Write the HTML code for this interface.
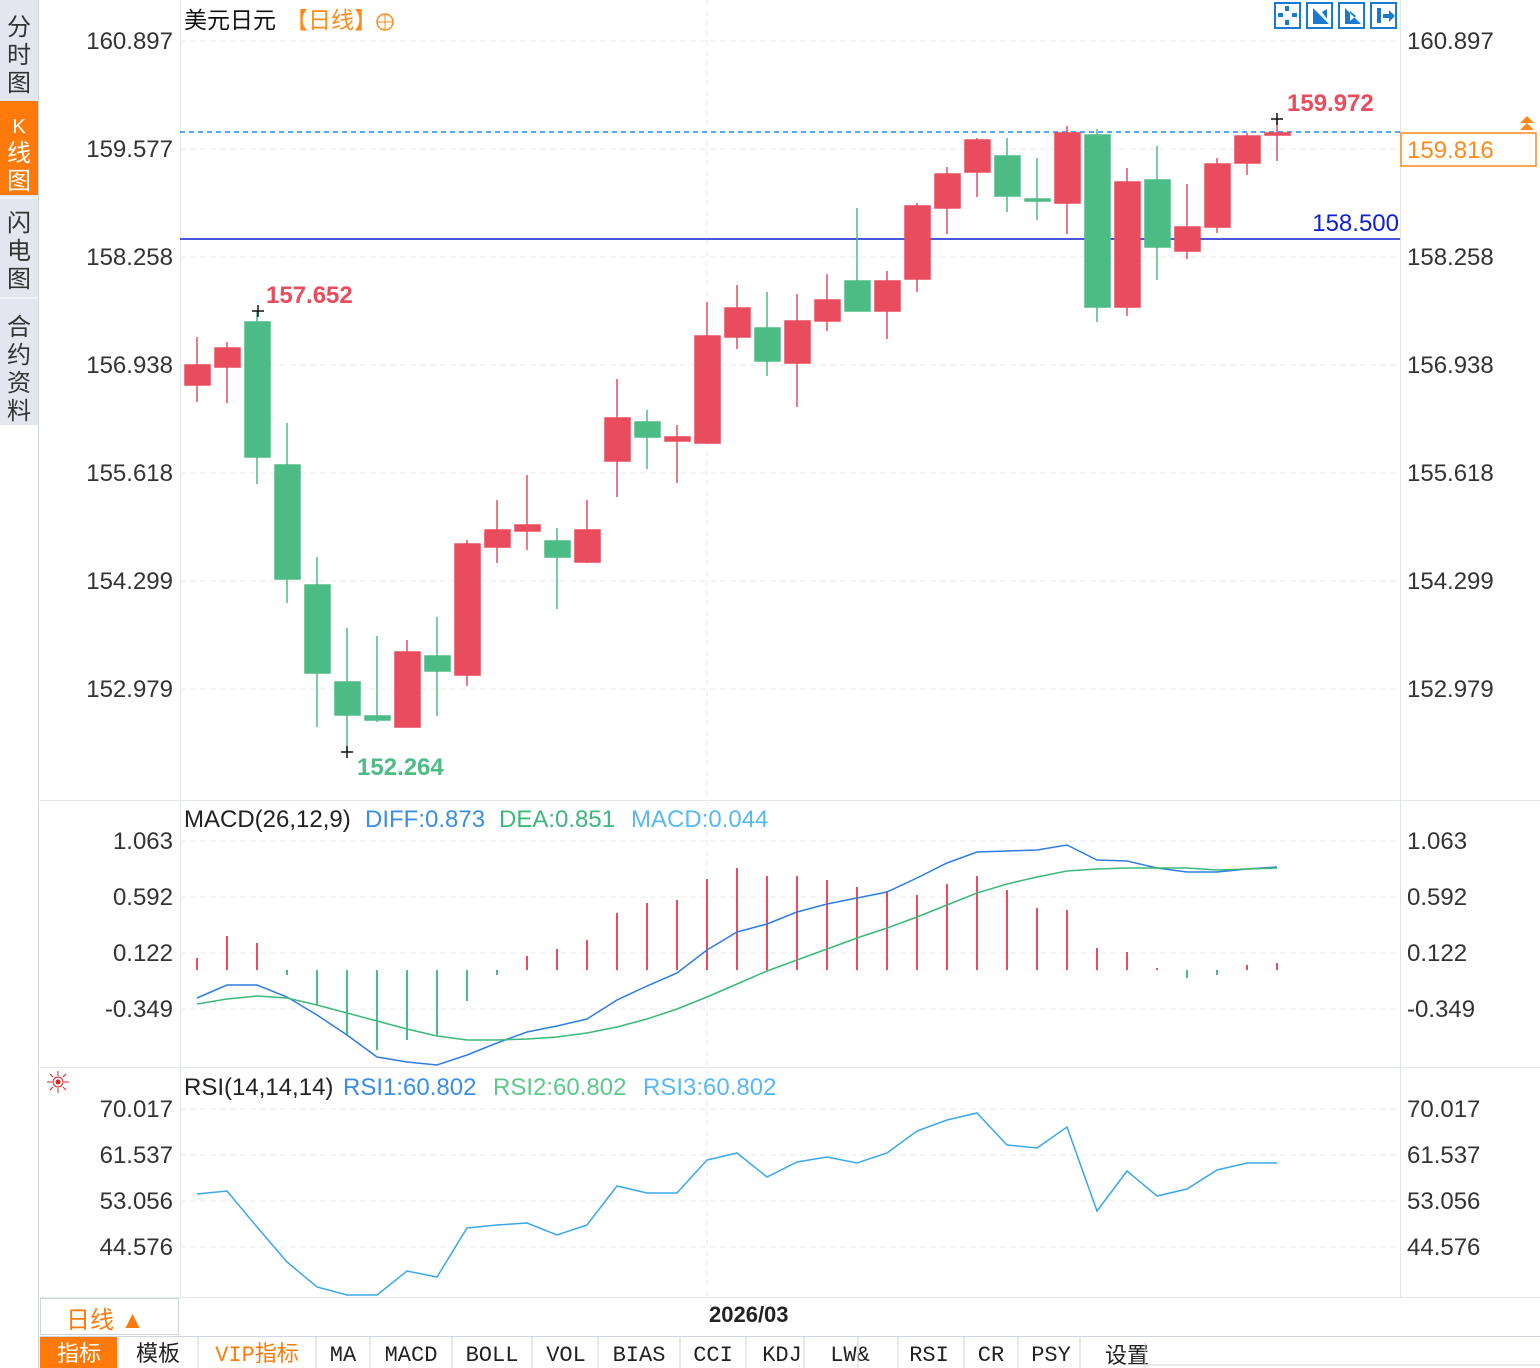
<!DOCTYPE html>
<html><head><meta charset="utf-8"><style>
body{margin:0;width:1540px;height:1368px;background:#fff;overflow:hidden;font-family:"Liberation Sans","Noto Sans CJK SC",sans-serif;position:relative}
svg{position:absolute;left:0;top:0}
</style></head><body>
<svg width="1540" height="1368" xmlns="http://www.w3.org/2000/svg" font-family="Liberation Sans, Noto Sans CJK SC, sans-serif">
<rect x="0" y="0" width="38" height="1368" fill="#fff"/>
<rect x="0" y="0" width="38" height="425" fill="#e3e6ee"/>
<rect x="0" y="101" width="38" height="94" fill="#ff7a0a"/>
<line x1="38.5" y1="0" x2="38.5" y2="1368" stroke="#d0d6de"/>
<line x1="0" y1="198" x2="38" y2="198" stroke="#fff"/>
<line x1="0" y1="298" x2="38" y2="298" stroke="#fff"/>
<g font-size="24" fill="#333" text-anchor="middle">
<text x="19" y="35">分</text><text x="19" y="63">时</text><text x="19" y="91">图</text>
<text x="19" y="133" fill="#fff" font-size="20">K</text><text x="19" y="161" fill="#fff">线</text><text x="19" y="189" fill="#fff">图</text>
<text x="19" y="231">闪</text><text x="19" y="259">电</text><text x="19" y="287">图</text>
<text x="19" y="335">合</text><text x="19" y="363">约</text><text x="19" y="391">资</text><text x="19" y="419">料</text>
</g>
<line x1="180.5" y1="0" x2="180.5" y2="1298" stroke="#dfe4ea"/>
<line x1="1400.5" y1="0" x2="1400.5" y2="1298" stroke="#dfe4ea"/>
<line x1="40" y1="800.5" x2="1540" y2="800.5" stroke="#e3e7ec"/>
<line x1="40" y1="1067.5" x2="1540" y2="1067.5" stroke="#e3e7ec"/>
<line x1="40" y1="1297.5" x2="1540" y2="1297.5" stroke="#e3e7ec"/>
<g stroke="#e8ebef" stroke-dasharray="6,4">
<line x1="180" y1="41" x2="1400" y2="41"/><line x1="180" y1="149" x2="1400" y2="149"/><line x1="180" y1="257" x2="1400" y2="257"/><line x1="180" y1="365" x2="1400" y2="365"/><line x1="180" y1="473" x2="1400" y2="473"/><line x1="180" y1="581" x2="1400" y2="581"/><line x1="180" y1="689" x2="1400" y2="689"/>
<line x1="180" y1="841" x2="1400" y2="841"/><line x1="180" y1="897" x2="1400" y2="897"/><line x1="180" y1="953" x2="1400" y2="953"/><line x1="180" y1="1009" x2="1400" y2="1009"/>
<line x1="180" y1="1109" x2="1400" y2="1109"/><line x1="180" y1="1155" x2="1400" y2="1155"/><line x1="180" y1="1201" x2="1400" y2="1201"/><line x1="180" y1="1247" x2="1400" y2="1247"/>
<line x1="707" y1="0" x2="707" y2="1298"/>
</g>
<g font-size="24" fill="#333" text-anchor="end">
<text x="173" y="49">160.897</text><text x="173" y="157">159.577</text><text x="173" y="265">158.258</text><text x="173" y="373">156.938</text><text x="173" y="481">155.618</text><text x="173" y="589">154.299</text><text x="173" y="697">152.979</text>
<text x="173" y="849">1.063</text><text x="173" y="905">0.592</text><text x="173" y="961">0.122</text><text x="173" y="1017">-0.349</text>
<text x="173" y="1117">70.017</text><text x="173" y="1163">61.537</text><text x="173" y="1209">53.056</text><text x="173" y="1255">44.576</text>
</g>
<g font-size="24" fill="#333">
<text x="1407" y="49">160.897</text><text x="1407" y="265">158.258</text><text x="1407" y="373">156.938</text><text x="1407" y="481">155.618</text><text x="1407" y="589">154.299</text><text x="1407" y="697">152.979</text>
<text x="1407" y="849">1.063</text><text x="1407" y="905">0.592</text><text x="1407" y="961">0.122</text><text x="1407" y="1017">-0.349</text>
<text x="1407" y="1117">70.017</text><text x="1407" y="1163">61.537</text><text x="1407" y="1209">53.056</text><text x="1407" y="1255">44.576</text>
</g>
<text x="184" y="28" font-size="23" fill="#111">美元日元</text>
<text x="285" y="28" font-size="23" fill="#ff8a1a">【日线】</text>
<circle cx="385" cy="22" r="8" fill="none" stroke="#ff8a1a" stroke-width="1.5"/><line x1="377" y1="22" x2="393" y2="22" stroke="#ff8a1a"/><line x1="385" y1="14" x2="385" y2="30" stroke="#ff8a1a"/>
<g fill="none" stroke="#1a7ad0" stroke-width="2">
<rect x="1275" y="3" width="25" height="25"/><rect x="1307" y="3" width="25" height="25"/><rect x="1339" y="3" width="25" height="25"/><rect x="1371" y="3" width="25" height="25"/>
</g>
<g fill="#1a7ad0"><rect x="1285" y="6" width="4" height="5"/><rect x="1285" y="20" width="4" height="5"/><rect x="1278" y="13" width="5" height="4"/><rect x="1292" y="13" width="5" height="4"/>
<path d="M1345 8v16h16M1350 11l6 5-6 5z"/><path d="M1377 8h4v15h-4zM1383 14h6v-4l6 6-6 6v-4h-6z"/><path d="M1313 8v16h16M1318 9v10M1322 12l5-3v10z"/></g>
<line x1="180" y1="132" x2="1400" y2="132" stroke="#1a8cff" stroke-width="1.5" stroke-dasharray="5,4"/>
<line x1="180" y1="239" x2="1400" y2="239" stroke="#1020d0" stroke-width="1.5"/>
<text x="1399" y="231" font-size="24" fill="#1020d0" text-anchor="end">158.500</text>
<rect x="1401" y="133" width="135" height="33" fill="#fff" stroke="#ff8a1a" stroke-width="1.5"/>
<text x="1407" y="158" font-size="24" fill="#ff8a1a">159.816</text>
<path d="M1520 123l7-7 7 7zM1520 130l7-7 7 7z" fill="#ff8a1a"/>
<g stroke-width="1.5">
<g stroke="#e94c5d" fill="#e94c5d">
<line x1="197" y1="337" x2="197" y2="402"/><rect x="185" y="365" width="25" height="20"/>
<line x1="227" y1="342" x2="227" y2="403"/><rect x="215" y="348" width="25" height="19"/>
<line x1="407" y1="640" x2="407" y2="727"/><rect x="395" y="652" width="25" height="75"/>
<line x1="467" y1="540" x2="467" y2="686"/><rect x="455" y="544" width="25" height="131"/>
<line x1="497" y1="500" x2="497" y2="563"/><rect x="485" y="530" width="25" height="17"/>
<line x1="527" y1="475" x2="527" y2="550"/><rect x="515" y="525" width="25" height="6"/>
<line x1="587" y1="500" x2="587" y2="563"/><rect x="575" y="530" width="25" height="32"/>
<line x1="617" y1="379" x2="617" y2="497"/><rect x="605" y="418" width="25" height="43"/>
<line x1="677" y1="425" x2="677" y2="483"/><rect x="665" y="437" width="25" height="4"/>
<line x1="707" y1="302" x2="707" y2="443"/><rect x="695" y="336" width="25" height="107"/>
<line x1="737" y1="285" x2="737" y2="349"/><rect x="725" y="308" width="25" height="29"/>
<line x1="797" y1="294" x2="797" y2="407"/><rect x="785" y="321" width="25" height="42"/>
<line x1="827" y1="274" x2="827" y2="331"/><rect x="815" y="300" width="25" height="21"/>
<line x1="887" y1="271" x2="887" y2="339"/><rect x="875" y="281" width="25" height="30"/>
<line x1="917" y1="203" x2="917" y2="292"/><rect x="905" y="206" width="25" height="73"/>
<line x1="947" y1="167" x2="947" y2="234"/><rect x="935" y="174" width="25" height="34"/>
<line x1="977" y1="138" x2="977" y2="197"/><rect x="965" y="140" width="25" height="32"/>
<line x1="1067" y1="126" x2="1067" y2="234"/><rect x="1055" y="133" width="25" height="70"/>
<line x1="1127" y1="168" x2="1127" y2="316"/><rect x="1115" y="182" width="25" height="125"/>
<line x1="1187" y1="184" x2="1187" y2="259"/><rect x="1175" y="227" width="25" height="24"/>
<line x1="1217" y1="158" x2="1217" y2="233"/><rect x="1205" y="164" width="25" height="63"/>
<line x1="1247" y1="133" x2="1247" y2="175"/><rect x="1235" y="136" width="25" height="27"/>
<line x1="1277" y1="119" x2="1277" y2="161"/><rect x="1265" y="133" width="25" height="2"/>
</g>
<g stroke="#4dbb86" fill="#4dbb86">
<line x1="257" y1="311" x2="257" y2="484"/><rect x="245" y="322" width="25" height="135"/>
<line x1="287" y1="423" x2="287" y2="603"/><rect x="275" y="465" width="25" height="114"/>
<line x1="317" y1="557" x2="317" y2="727"/><rect x="305" y="585" width="25" height="88"/>
<line x1="347" y1="628" x2="347" y2="752"/><rect x="335" y="682" width="25" height="33"/>
<line x1="377" y1="636" x2="377" y2="722"/><rect x="365" y="716" width="25" height="4"/>
<line x1="437" y1="617" x2="437" y2="716"/><rect x="425" y="656" width="25" height="15"/>
<line x1="557" y1="528" x2="557" y2="609"/><rect x="545" y="541" width="25" height="16"/>
<line x1="647" y1="410" x2="647" y2="469"/><rect x="635" y="422" width="25" height="15"/>
<line x1="767" y1="292" x2="767" y2="376"/><rect x="755" y="328" width="25" height="33"/>
<line x1="857" y1="208" x2="857" y2="311"/><rect x="845" y="281" width="25" height="30"/>
<line x1="1007" y1="138" x2="1007" y2="212"/><rect x="995" y="156" width="25" height="40"/>
<line x1="1037" y1="158" x2="1037" y2="220"/><rect x="1025" y="199" width="25" height="2"/>
<line x1="1097" y1="129" x2="1097" y2="322"/><rect x="1085" y="135" width="25" height="172"/>
<line x1="1157" y1="146" x2="1157" y2="280"/><rect x="1145" y="180" width="25" height="67"/>
</g>
</g>
<g stroke="#111" stroke-width="1.5"><path d="M252 311h12M258 305v12M341 752h12M347 746v12M1271 119h12M1277 113v12"/></g>
<text x="266" y="303" font-size="24" fill="#e94c5d" font-weight="bold">157.652</text>
<text x="357" y="775" font-size="24" fill="#4dbb86" font-weight="bold">152.264</text>
<text x="1287" y="111" font-size="24" fill="#e94c5d" font-weight="bold">159.972</text>
<g font-size="24">
<text x="184" y="827" fill="#222">MACD(26,12,9)</text>
<text x="365" y="827" fill="#3a8ee6">DIFF:0.873</text>
<text x="499" y="827" fill="#3cb87a">DEA:0.851</text>
<text x="631" y="827" fill="#5ab8f0">MACD:0.044</text>
<text x="184" y="1095" fill="#222">RSI(14,14,14)</text>
<text x="343" y="1095" fill="#3a8ee6">RSI1:60.802</text>
<text x="493" y="1095" fill="#5cc98a">RSI2:60.802</text>
<text x="643" y="1095" fill="#5ab8f0">RSI3:60.802</text>
</g>
<g stroke-width="2">
<g stroke="#e94c5d"><path d="M197 970V958M227 970V936M257 970V943M527 970V956M557 970V949M587 970V940M617 970V913M647 970V903M677 970V900M707 970V879M737 970V868M767 970V876M797 970V876M827 970V880M857 970V887M887 970V891M917 970V895M947 970V884M977 970V876M1007 970V890M1037 970V908M1067 970V910M1097 970V948M1127 970V952M1157 970V968M1247 970V965M1277 970V963"/></g>
<g stroke="#4dbb86"><path d="M287 970V975M317 970V1005M347 970V1035M377 970V1050M407 970V1040M437 970V1035M467 970V1001M497 970V975M1187 970V978M1217 970V975"/></g>
</g>
<polyline fill="none" stroke="#2f7de0" stroke-width="1.5" points="197,998 227,985 257,985 287,997 317,1015 347,1035 377,1057 407,1062 437,1065 467,1055 497,1043 527,1032 557,1026 587,1019 617,1000 647,986 677,973 707,950 737,932 767,924 797,912 827,904 857,898 887,892 917,878 947,863 977,852 1007,851 1037,850 1067,845 1097,860 1127,861 1157,868 1187,872 1217,872 1247,869 1277,867"/>
<polyline fill="none" stroke="#3cb87a" stroke-width="1.5" points="197,1004 227,999 257,996 287,998 317,1005 347,1013 377,1021 407,1029 437,1036 467,1040 497,1040 527,1039 557,1037 587,1033 617,1027 647,1019 677,1009 707,997 737,984 767,971 797,960 827,949 857,938 887,928 917,917 947,905 977,893 1007,884 1037,877 1067,871 1097,869 1127,868 1157,868 1187,868 1217,870 1247,869 1277,868"/>
<g stroke="#e02020" fill="none"><circle cx="58" cy="1082" r="5"/><path d="M58 1071v5M58 1088v5M47 1082h5M64 1082h5M50 1074l3 3M63 1087l3 3M66 1074l-3 3M50 1090l3-3"/></g>
<circle cx="58" cy="1082" r="2.5" fill="#e02020"/>
<polyline fill="none" stroke="#3aa8e8" stroke-width="1.5" points="197,1194 227,1191 257,1227 287,1262 317,1287 347,1295 377,1295 407,1271 437,1277 467,1228 497,1225 527,1223 557,1235 587,1225 617,1186 647,1193 677,1193 707,1160 737,1153 767,1177 797,1162 827,1157 857,1163 887,1153 917,1131 947,1120 977,1113 1007,1145 1037,1148 1067,1127 1097,1211 1127,1171 1157,1196 1187,1189 1217,1170 1247,1163 1277,1163"/>
<rect x="40" y="1298" width="1500" height="38" fill="#fff"/>
<rect x="40.5" y="1298.5" width="138" height="36" fill="#fff" stroke="#d0d6de"/>
<text x="66" y="1328" font-size="24" fill="#ff7a0a">日线 ▲</text>
<text x="709" y="1322" font-size="22" fill="#222" font-weight="bold">2026/03</text>
<rect x="40" y="1336" width="1500" height="32" fill="#fff"/>
<line x1="40" y1="1336.5" x2="1540" y2="1336.5" stroke="#d0d6de"/>
<rect x="40" y="1337" width="77" height="31" fill="#ff7a0a"/>
<g font-size="22" font-family="Liberation Mono, Noto Sans CJK SC, monospace" fill="#222" text-anchor="middle">
<text x="79" y="1361" fill="#fff">指标</text>
<text x="158" y="1361">模板</text>
<text x="257" y="1361" fill="#ff7a0a">VIP指标</text>
<text x="343" y="1361">MA</text>
<text x="411" y="1361">MACD</text>
<text x="492" y="1361">BOLL</text>
<text x="566" y="1361">VOL</text>
<text x="639" y="1361">BIAS</text>
<text x="713" y="1361">CCI</text>
<text x="782" y="1361">KDJ</text>
<text x="850" y="1361">LW&amp;</text>
<text x="929" y="1361">RSI</text>
<text x="991" y="1361">CR</text>
<text x="1051" y="1361">PSY</text>
<text x="1127" y="1363">设置</text>
</g>
<g stroke="#d0d6de"><path d="M118 1337v31M198 1337v31M316 1337v31M370 1337v31M452 1337v31M532 1337v31M598 1337v31M680 1337v31M746 1337v31M804 1337v31M858 1337v31M898 1337v31M964 1337v31M1018 1337v31M1080 1337v31M1145 1342v26M1145 1365h395"/></g>
</svg>
</body></html>
